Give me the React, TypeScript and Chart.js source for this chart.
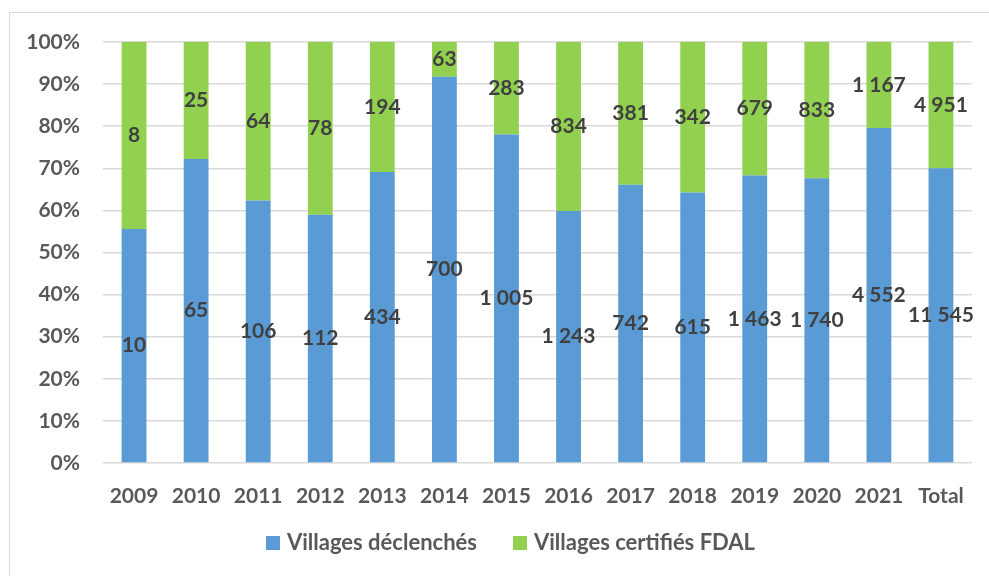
import React, { useEffect, useRef } from "react";
import { Chart, registerables } from "chart.js";

Chart.register(...registerables);

const categories = ["2009", "2010", "2011", "2012", "2013", "2014", "2015", "2016", "2017", "2018", "2019", "2020", "2021", "Total"];
const villagesDeclenches = [10, 65, 106, 112, 434, 700, 1005, 1243, 742, 615, 1463, 1740, 4552, 11545];
const villagesCertifies = [8, 25, 64, 78, 194, 63, 283, 834, 381, 342, 679, 833, 1167, 4951];
const seriesNames = ["Villages déclenchés", "Villages certifiés FDAL"];
const seriesColors = ["#5B9BD5", "#92D050"];

const FONT = "Lato, 'Open Sans', sans-serif";
const SIZE = 21;
const TEXT = "#595959";
const LABEL = "#404040";
const GRID = "#D9D9D9";

const totals = categories.map((_, i) => villagesDeclenches[i] + villagesCertifies[i]);
const share = (arr: number[]) => arr.map((v, i) => (v / totals[i]) * 100);
const fmt = (v: number) => String(v).replace(/\B(?=(\d{3})+(?!\d))/g, " ");

const valueLabels = {
  id: "valueLabels",
  afterDatasetsDraw(chart: any) {
    const ctx = chart.ctx;
    ctx.save();
    ctx.font = `700 ${SIZE}px ${FONT}`;
    ctx.fillStyle = LABEL;
    ctx.textAlign = "center";
    ctx.textBaseline = "middle";
    chart.data.datasets.forEach((ds: any, di: number) => {
      const meta = chart.getDatasetMeta(di);
      meta.data.forEach((bar: any, i: number) => {
        const p = bar.getProps(["x", "y", "base"], true);
        ctx.fillText(fmt(ds.counts[i]), p.x, (p.y + p.base) / 2);
      });
    });
    ctx.restore();
  },
};

const bottomLegend = {
  id: "bottomLegend",
  afterDraw(chart: any) {
    const ctx = chart.ctx;
    ctx.save();
    ctx.font = `700 22px ${FONT}`;
    ctx.textBaseline = "middle";
    ctx.textAlign = "left";
    const box = 14;
    const gapText = 7;
    const gapItems = 36;
    const items = chart.data.datasets.map((ds: any) => ({
      label: ds.label,
      color: ds.backgroundColor,
      w: box + gapText + ctx.measureText(ds.label).width,
    }));
    const total = items.reduce((s: number, it: any) => s + it.w, 0) + gapItems * (items.length - 1);
    const cx = (chart.chartArea.left + chart.chartArea.right) / 2 - 27;
    const y = 543;
    let x = cx - total / 2;
    items.forEach((it: any) => {
      ctx.fillStyle = it.color;
      ctx.fillRect(x, y - box / 2, box, box);
      ctx.fillStyle = TEXT;
      ctx.fillText(it.label, x + box + gapText, y);
      x += it.w + gapItems;
    });
    ctx.restore();
  },
};

export default function App() {
  const ref = useRef<HTMLCanvasElement | null>(null);

  useEffect(() => {
    if (!ref.current) return;
    const chart = new Chart(ref.current, {
      type: "bar",
      data: {
        labels: categories,
        datasets: [
          {
            label: seriesNames[0],
            data: share(villagesDeclenches),
            counts: villagesDeclenches,
            backgroundColor: seriesColors[0],
            barPercentage: 0.4,
            categoryPercentage: 1,
          } as any,
          {
            label: seriesNames[1],
            data: share(villagesCertifies),
            counts: villagesCertifies,
            backgroundColor: seriesColors[1],
            barPercentage: 0.4,
            categoryPercentage: 1,
          } as any,
        ],
      },
      options: {
        responsive: false,
        animation: false,
        devicePixelRatio: 1,
        layout: { padding: { left: 0, top: 42, right: 17, bottom: 43 } },
        plugins: {
          legend: { display: false },
          tooltip: { enabled: false },
        },
        scales: {
          x: {
            stacked: true,
            grid: { display: false },
            border: { display: false },
            ticks: { color: TEXT, font: { family: FONT, size: SIZE, weight: "bold" }, padding: 13, maxRotation: 0 },
            afterFit: (s: any) => {
              s.height = 70;
            },
          },
          y: {
            stacked: true,
            min: 0,
            max: 100,
            border: { display: false },
            grid: { color: GRID, lineWidth: 1.5, drawTicks: false },
            ticks: {
              stepSize: 10,
              color: TEXT,
              font: { family: FONT, size: SIZE, weight: "bold" },
              padding: 23,
              callback: (v: any) => `${v}%`,
            },
            afterFit: (s: any) => {
              s.width = 103;
            },
          },
        },
      },
      plugins: [valueLabels, bottomLegend],
    });
    return () => chart.destroy();
  }, []);

  return (
    <div style={{ position: "fixed", left: 0, top: 0, width: 989, height: 576, background: "#fff", overflow: "hidden" }}>
      <div
        style={{
          position: "absolute",
          left: 9,
          top: 12,
          width: 1000,
          height: 600,
          border: `1.5px solid ${GRID}`,
          boxSizing: "border-box",
        }}
      />
      <canvas ref={ref} width={989} height={576} style={{ position: "absolute", left: 0, top: 0, width: 989, height: 576 }} />
    </div>
  );
}
